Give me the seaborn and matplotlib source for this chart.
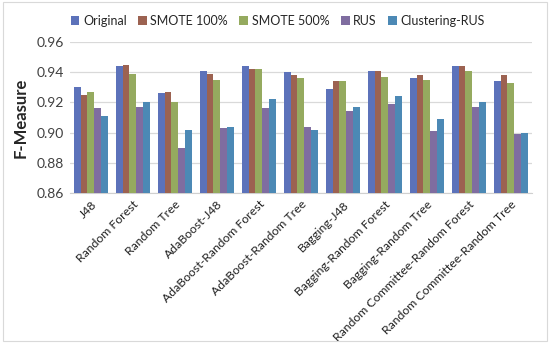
import pandas as pd
import matplotlib
matplotlib.use("Agg")
import matplotlib.pyplot as plt
import seaborn as sns
from matplotlib.patches import Rectangle

classifiers = ["J48", "Random Forest", "Random Tree", "AdaBoost-J48",
               "AdaBoost-Random Forest", "AdaBoost-Random Tree", "Bagging-J48",
               "Bagging-Random Forest", "Bagging-Random Tree",
               "Random Committee-Random Forest", "Random Committee-Random Tree"]
methods = ["Original", "SMOTE 100%", "SMOTE 500%", "RUS", "Clustering-RUS"]

original = [0.930, 0.944, 0.926, 0.941, 0.944, 0.940, 0.929, 0.941, 0.936, 0.944, 0.934]
smote100 = [0.925, 0.945, 0.927, 0.939, 0.942, 0.938, 0.934, 0.941, 0.938, 0.944, 0.938]
smote500 = [0.927, 0.939, 0.920, 0.935, 0.942, 0.936, 0.934, 0.937, 0.935, 0.941, 0.933]
rus = [0.916, 0.917, 0.890, 0.903, 0.916, 0.904, 0.914, 0.919, 0.901, 0.917, 0.899]
clustering_rus = [0.911, 0.920, 0.902, 0.904, 0.922, 0.902, 0.917, 0.924, 0.909, 0.920, 0.900]

colors = ["#4D6AC9", "#A85B45", "#9BB653", "#7D64A8", "#3B8CC6"]

# long format for seaborn
rows = []
for m, vals in zip(methods, [original, smote100, smote500, rus, clustering_rus]):
    for c, v in zip(classifiers, vals):
        rows.append({"Classifier": c, "Method": m, "F-Measure": v})
df = pd.DataFrame(rows)

sns.set_style("white")
plt.rcParams['font.family'] = ['Lato', 'DejaVu Sans']

fig = plt.figure(figsize=(5.5, 3.43), dpi=100)
ax = fig.add_axes([0.127, 0.437, 0.84, 0.441])

sns.barplot(data=df, x="Classifier", y="F-Measure", hue="Method",
            hue_order=methods, palette=colors, width=0.8, ax=ax,
            linewidth=0, zorder=3)

ax.set_ylim(0.86, 0.96)
ax.set_yticks([0.86, 0.88, 0.90, 0.92, 0.94, 0.96])
ax.set_yticklabels(["0.86", "0.88", "0.90", "0.92", "0.94", "0.96"],
                   fontsize=10, color="#404040")
ax.yaxis.grid(True, color="#D9D9D9", linewidth=0.9, zorder=0)
ax.set_axisbelow(True)
for s in ["top", "right", "left"]:
    ax.spines[s].set_visible(False)
ax.spines["bottom"].set_color("#D0D0D0")
ax.tick_params(axis="both", length=0, pad=4)
ax.set_xlim(-0.5, len(classifiers) - 0.5)
ax.set_xticks(range(len(classifiers)))
ax.set_xticklabels(classifiers, rotation=45, ha="right", rotation_mode="anchor",
                   fontsize=8.8, color="#202020")
ax.set_xlabel("")
ax.set_ylabel("F-Measure", fontsize=12, fontweight="bold", labelpad=6)

ax.legend_.remove()
handles, labels = ax.get_legend_handles_labels()
fig.legend(handles, labels, loc="upper center", bbox_to_anchor=(0.505, 0.99),
           ncol=5, frameon=False, fontsize=9, handlelength=0.7, handleheight=0.7,
           handletextpad=0.3, columnspacing=0.9)

fig.patches.append(Rectangle((0.005, 0.005), 0.99, 0.99, transform=fig.transFigure,
                             fill=False, edgecolor="#D9D9D9", linewidth=0.8))

fig.savefig("out.png", dpi=100)
